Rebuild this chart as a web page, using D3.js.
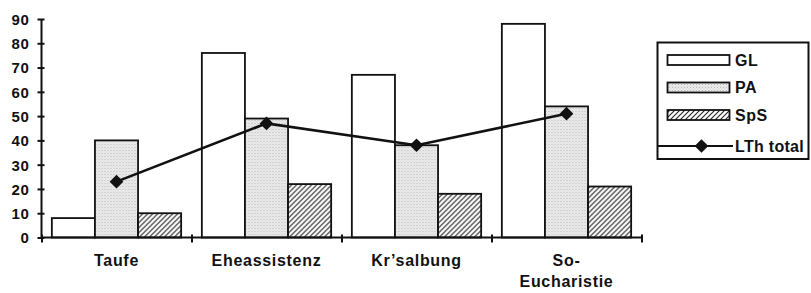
<!DOCTYPE html>
<html lang="de">
<head>
<meta charset="UTF-8">
<title>Kasualien</title>
<script src="https://d3js.org/d3.v7.min.js"></script>
<style>
    body { margin: 0; background: #fff; }
    svg text { font-family: 'Liberation Sans', Arial, Helvetica, sans-serif; font-weight: bold; fill: #111; }
</style>
</head>
<body>
<div id="chart"></div>
<script>
    // data
    const categories = ["Taufe", "Eheassistenz", "Kr\u2019salbung", "So-\nEucharistie"];
    const seriesNames = ["GL", "PA", "SpS"];
    const gl = [8, 76, 67, 88];
    const pa = [40, 49, 38, 54];
    const sps = [10, 22, 18, 21];
    const lthTotal = [23, 47, 38, 51];
    const yTicks = [0, 10, 20, 30, 40, 50, 60, 70, 80, 90];
    const lineName = "LTh total";

    const W = 811, H = 293;
    const svg = d3.select("#chart").append("svg")
        .attr("width", W).attr("height", H);

    // fills
    const defs = svg.append("defs");
    const dots = defs.append("pattern").attr("id", "dots")
        .attr("width", 3).attr("height", 3).attr("patternUnits", "userSpaceOnUse");
    dots.append("rect").attr("width", 3).attr("height", 3).attr("fill", "#ebebeb");
    dots.append("rect").attr("x", 0).attr("y", 0).attr("width", 1).attr("height", 1).attr("fill", "#b8b8b8");
    dots.append("rect").attr("x", 1.5).attr("y", 1.5).attr("width", 1).attr("height", 1).attr("fill", "#cfcfcf");

    const hatch = defs.append("pattern").attr("id", "hatch")
        .attr("width", 5).attr("height", 5).attr("patternUnits", "userSpaceOnUse");
    hatch.append("rect").attr("width", 5).attr("height", 5).attr("fill", "#fff");
    hatch.append("path").attr("d", "M-1,1 l2,-2 M0,5 l5,-5 M4,6 l2,-2")
        .attr("stroke", "#222").attr("stroke-width", 1.1);

    const fills = { GL: "#fff", PA: "url(#dots)", SpS: "url(#hatch)" };
    const values = { GL: gl, PA: pa, SpS: sps };

    const x0 = d3.scaleBand().domain(categories).range([41.5, 641.5]);
    const x1 = d3.scaleBand().domain(seriesNames).range([0, x0.bandwidth()]).paddingOuter(0.24);
    const y = d3.scaleLinear().domain([0, 90]).range([237.5, 19]);

    // bars
    const groups = svg.append("g").selectAll("g")
        .data(categories).join("g")
        .attr("transform", d => `translate(${x0(d)},0)`);

    groups.selectAll("rect")
        .data((d, i) => seriesNames.map(s => ({ s, v: values[s][i] })))
        .join("rect")
        .attr("x", d => x1(d.s))
        .attr("y", d => y(d.v))
        .attr("width", x1.bandwidth())
        .attr("height", d => y(0) - y(d.v))
        .attr("fill", d => fills[d.s])
        .attr("stroke", "#111")
        .attr("stroke-width", 1.8);

    // axes
    const yAxis = svg.append("g").attr("transform", `translate(${x0.range()[0]},0)`)
        .call(d3.axisLeft(y).tickValues(yTicks).tickSize(4).tickPadding(8));
    yAxis.select(".domain").attr("stroke", "#111").attr("stroke-width", 2).attr("d", `M0,${y(90)}V${y(0)}`);
    yAxis.selectAll(".tick line").attr("stroke", "#111").attr("stroke-width", 2).attr("x1", 3).attr("x2", -4);
    yAxis.selectAll(".tick text").style("font-size", "15px").style("letter-spacing", "0.6px")
        .attr("font-family", null).attr("dy", "0.36em");

    const xAxis = svg.append("g").attr("transform", `translate(0,${y(0)})`)
        .call(d3.axisBottom(d3.scaleLinear().domain([0, categories.length]).range(x0.range()))
            .tickValues(d3.range(categories.length + 1)).tickSize(5).tickFormat(""));
    xAxis.select(".domain").attr("stroke", "#111").attr("stroke-width", 2).attr("d", `M${x0.range()[0]},0H${x0.range()[1]}`);
    xAxis.selectAll(".tick line").attr("stroke", "#111").attr("stroke-width", 2).attr("y1", -3).attr("y2", 5);

    // category labels
    const labels = svg.append("g").selectAll("text")
        .data(categories).join("text")
        .attr("x", d => x0(d) + x0.bandwidth() / 2)
        .attr("y", 266)
        .attr("text-anchor", "middle")
        .style("font-size", "16px").style("letter-spacing", "0.7px");
    labels.selectAll("tspan")
        .data(d => d.split("\n")).join("tspan")
        .attr("x", function () { return this.parentNode.getAttribute("x"); })
        .attr("dy", (d, i) => i === 0 ? 0 : 21)
        .text(d => d);

    // LTh total line
    const cx = (d, i) => x0(categories[i]) + x0.bandwidth() / 2;
    svg.append("path").datum(lthTotal)
        .attr("fill", "none").attr("stroke", "#111").attr("stroke-width", 2.6)
        .attr("d", d3.line().x(cx).y(d => y(d)));
    const diamond = d3.symbol().type(d3.symbolDiamond2).size(120);
    svg.append("g").selectAll("path").data(lthTotal).join("path")
        .attr("transform", (d, i) => `translate(${cx(d, i)},${y(d)}) rotate(0)`)
        .attr("d", diamond).attr("fill", "#111");

    // legend
    const lg = svg.append("g");
    lg.append("rect").attr("x", 657.5).attr("y", 42.5).attr("width", 151).attr("height", 116.5)
        .attr("fill", "#fff").attr("stroke", "#111").attr("stroke-width", 2);
    const rowY = [60, 87.5, 115, 146];
    seriesNames.forEach((s, i) => {
        lg.append("rect").attr("x", 667.5).attr("y", rowY[i] - 5).attr("width", 62).attr("height", 10)
            .attr("fill", fills[s]).attr("stroke", "#111").attr("stroke-width", 1.8);
        lg.append("text").attr("x", 735).attr("y", rowY[i]).attr("dy", "0.36em")
            .style("font-size", "16px").style("letter-spacing", "0.5px").text(s);
    });
    lg.append("line").attr("x1", 658).attr("x2", 733).attr("y1", rowY[3]).attr("y2", rowY[3])
        .attr("stroke", "#111").attr("stroke-width", 2);
    lg.append("path").attr("transform", `translate(701.5,${rowY[3]})`).attr("d", diamond).attr("fill", "#111");
    lg.append("text").attr("x", 735).attr("y", rowY[3]).attr("dy", "0.36em")
        .style("font-size", "16px").style("letter-spacing", "0.3px").text(lineName);
</script>
</body>
</html>
